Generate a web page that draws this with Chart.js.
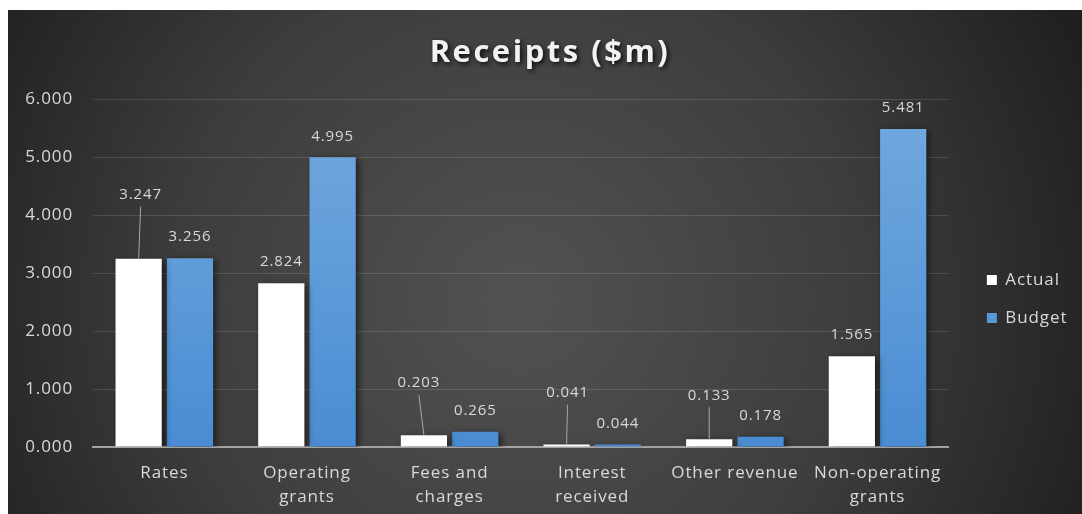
<!DOCTYPE html>
<html>
<head>
<meta charset="utf-8">
<title>Receipts ($m)</title>
<script src="https://cdn.jsdelivr.net/npm/chart.js@4.4.1/dist/chart.umd.min.js"></script>
<style>
  html, body { margin: 0; padding: 0; background: #fff; }
  canvas { display: block; }
</style>
</head>
<body>
<canvas id="chart" width="1082" height="514"></canvas>
<script>
const categories = ['Rates', ['Operating', 'grants'], ['Fees and', 'charges'], ['Interest', 'received'], 'Other revenue', ['Non-operating', 'grants']];
const actual = [3.247, 2.824, 0.203, 0.041, 0.133, 1.565];
const budget = [3.256, 4.995, 0.265, 0.044, 0.178, 5.481];
const seriesNames = ['Actual', 'Budget'];
const yMin = 0, yMax = 6, yStep = 1;

const TEXT = '#d9d9d9';
const FONT = '"Open Sans", "DejaVu Sans", sans-serif';

// dark panel with a soft radial light, plus the chart title
const panel = {
    id: 'panel',
    beforeDraw(chart) {
        const ctx = chart.ctx;
        ctx.letterSpacing = '0.9px';
        ctx.save();
        ctx.fillStyle = '#fff';
        ctx.fillRect(0, 0, chart.width, chart.height);
        const g = ctx.createRadialGradient(520, 300, 0, 520, 300, 620);
        g.addColorStop(0, '#525252');
        g.addColorStop(0.55, '#3d3d3d');
        g.addColorStop(1, '#1f1f1f');
        ctx.fillStyle = g;
        ctx.fillRect(8, 10, chart.width - 8, chart.height - 10);

        ctx.font = 'bold 31px ' + FONT;
        ctx.letterSpacing = '2.5px';
        ctx.textAlign = 'center';
        ctx.textBaseline = 'middle';
        ctx.shadowColor = 'rgba(0,0,0,0.85)';
        ctx.shadowBlur = 5;
        ctx.shadowOffsetX = 2;
        ctx.shadowOffsetY = 2;
        ctx.fillStyle = '#f2f2f2';
        ctx.fillText('Receipts ($m)', 550, 53);
        ctx.restore();
    }
};

// move the legend block up/down after layout
const legendNudge = {
    id: 'legendNudge',
    afterLayout(chart, args, opts) {
        chart.legend.top += opts.dy;
        chart.legend.bottom += opts.dy;
    }
};

// soft outer shadow on the bars
const barShadow = {
    id: 'barShadow',
    beforeDatasetsDraw(chart) {
        const ctx = chart.ctx;
        ctx.save();
        ctx.shadowColor = 'rgba(0,0,0,0.6)';
        ctx.shadowBlur = 7;
        ctx.shadowOffsetX = 3;
        ctx.shadowOffsetY = 2;
    },
    afterDatasetsDraw(chart) {
        chart.ctx.restore();
    }
};

// value above each bar; some sit higher with a leader line down to the bar
const valueLabels = {
    id: 'valueLabels',
    afterDatasetsDraw(chart, args, opts) {
        const ctx = chart.ctx;
        ctx.save();
        ctx.font = '15px ' + FONT;
        ctx.fillStyle = TEXT;
        ctx.textAlign = 'center';
        ctx.textBaseline = 'middle';
        ctx.strokeStyle = '#a6a6a6';
        ctx.lineWidth = 1;
        chart.data.datasets.forEach((ds, di) => {
            chart.getDatasetMeta(di).data.forEach((bar, i) => {
                const c = opts.callouts.find(o => o.ds === di && o.i === i);
                let x = bar.x, y = bar.y - 21;
                if (c) {
                    x = bar.x + c.dx;
                    y = bar.y - c.rise;
                    ctx.beginPath();
                    ctx.moveTo(x, y + 12);
                    ctx.lineTo(bar.x, bar.y);
                    ctx.stroke();
                }
                ctx.fillText(ds.data[i].toFixed(3), x, y);
            });
        });
        ctx.restore();
    }
};

function blueFill(c) {
    const area = c.chart.chartArea;
    if (!area) return '#5b9bd5';
    const g = c.chart.ctx.createLinearGradient(0, area.top, 0, area.bottom);
    g.addColorStop(0, '#72aade');
    g.addColorStop(1, '#4a8cd3');
    return g;
}

const ctx = document.getElementById('chart').getContext('2d');
new Chart(ctx, {
    type: 'bar',
    data: {
        labels: categories,
        datasets: [
            { label: seriesNames[0], data: actual, backgroundColor: '#ffffff', borderWidth: 0 },
            { label: seriesNames[1], data: budget, backgroundColor: blueFill, borderWidth: 0 }
        ]
    },
    options: {
        responsive: false,
        animation: false,
        events: [],
        categoryPercentage: 0.72,
        barPercentage: 0.9,
        layout: { padding: { top: 99, left: 0, right: 10, bottom: 3 } },
        scales: {
            x: {
                grid: { display: false, drawTicks: false },
                border: { display: true, color: '#a3a3a3', width: 2 },
                ticks: {
                    color: TEXT,
                    font: { family: FONT, size: 17, lineHeight: 1.41 },
                    padding: 14,
                    maxRotation: 0,
                    autoSkip: false
                },
                afterFit(s) { s.height = 64; }
            },
            y: {
                min: yMin,
                max: yMax,
                grid: { color: 'rgba(255,255,255,0.13)', drawTicks: false },
                border: { display: false },
                ticks: {
                    stepSize: yStep,
                    color: TEXT,
                    font: { family: FONT, size: 17 },
                    padding: 20,
                    callback: v => v.toFixed(3)
                },
                afterFit(s) { s.width = 93; }
            },
            gap: {
                type: 'linear',
                position: 'right',
                display: true,
                grid: { display: false },
                border: { display: false },
                ticks: { display: false },
                afterFit(s) { s.width = 17; }
            }
        },
        plugins: {
            title: { display: false },
            tooltip: { enabled: false },
            legend: {
                position: 'right',
                labels: {
                    color: TEXT,
                    font: { family: FONT, size: 17 },
                    boxWidth: 10,
                    boxHeight: 10,
                    padding: 21
                }
            },
            legendNudge: { dy: -6 },
            valueLabels: {
                callouts: [
                    { ds: 0, i: 0, dx: 2, rise: 64 },
                    { ds: 0, i: 2, dx: -5, rise: 52 },
                    { ds: 0, i: 3, dx: 1, rise: 52 },
                    { ds: 0, i: 4, dx: 0, rise: 44 }
                ]
            }
        }
    },
    plugins: [panel, legendNudge, barShadow, valueLabels]
});
</script>
</body>
</html>
